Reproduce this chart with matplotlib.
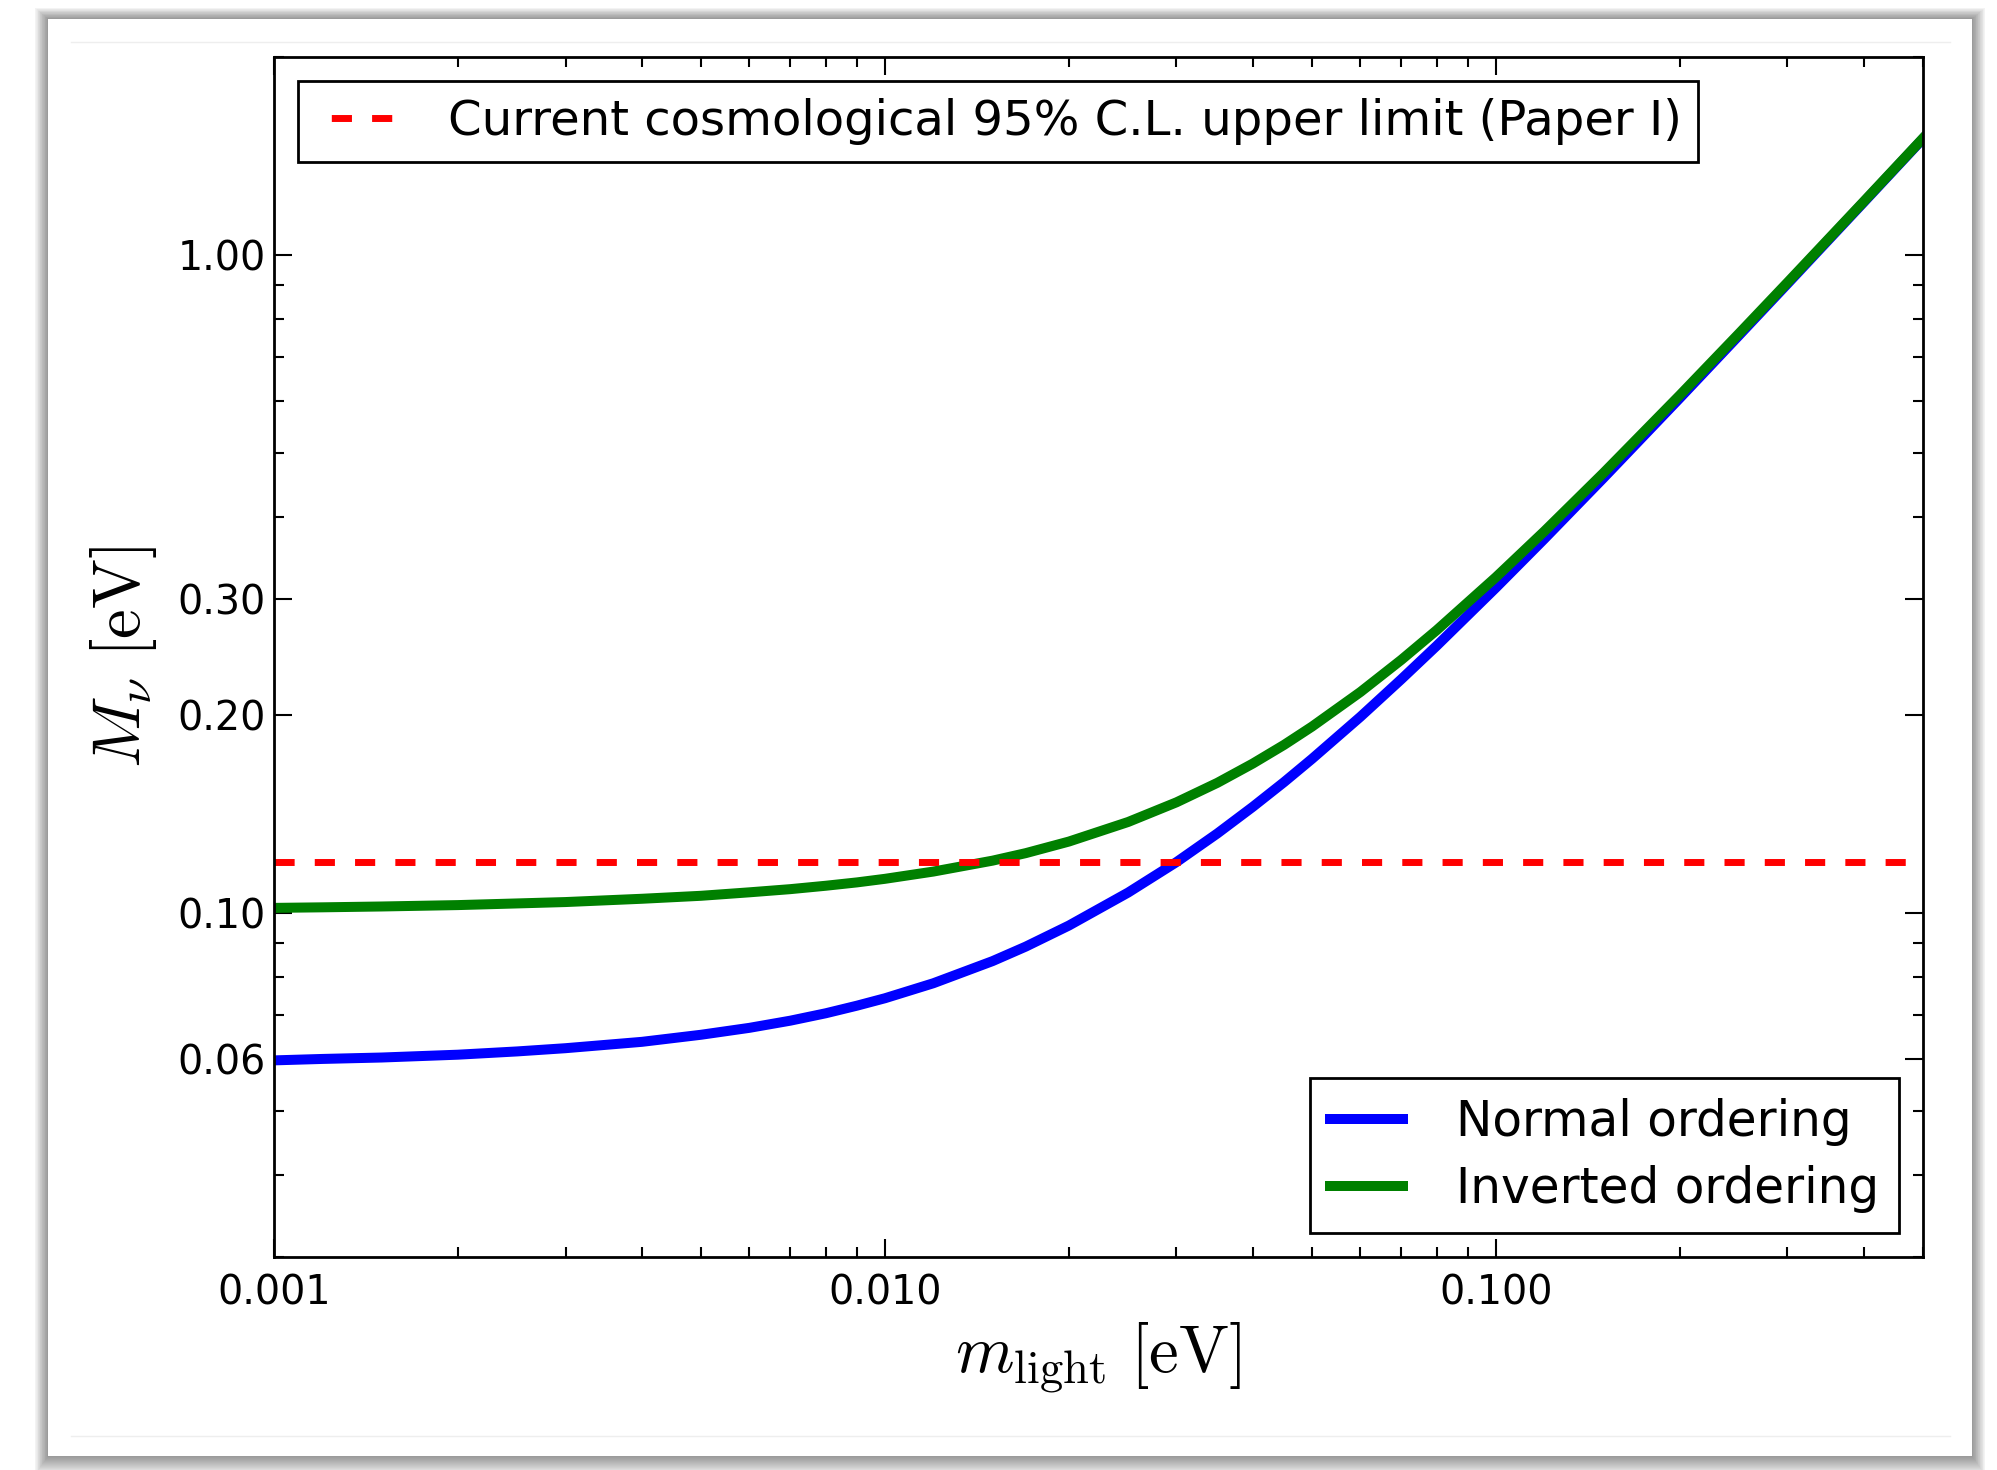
import numpy as np
import matplotlib
matplotlib.use("Agg")
import matplotlib.pyplot as plt
from matplotlib.patches import Rectangle
from matplotlib.lines import Line2D
from matplotlib.ticker import FixedLocator, FormatStrFormatter, LogLocator, NullFormatter

plt.rcParams["mathtext.fontset"] = "cm"
plt.rcParams["font.family"] = "DejaVu Sans"

# values
m_light = [0.001, 0.0012, 0.0015, 0.002, 0.0025, 0.003, 0.004, 0.005, 0.006, 0.007,
           0.008, 0.009, 0.01, 0.012, 0.015, 0.017, 0.02, 0.025, 0.03, 0.035,
           0.04, 0.045, 0.05, 0.06, 0.07, 0.08, 0.1, 0.12, 0.15, 0.2,
           0.25, 0.3, 0.4, 0.5]
M_normal = [0.0597, 0.0600, 0.0603, 0.0609, 0.0616, 0.0623, 0.0637, 0.0653, 0.0669, 0.0686,
            0.0704, 0.0723, 0.0742, 0.0782, 0.0845, 0.0889, 0.0957, 0.1074, 0.1195, 0.1321,
            0.1450, 0.1581, 0.1715, 0.1987, 0.2266, 0.2548, 0.3122, 0.3703, 0.4584, 0.6063,
            0.7551, 0.9043, 1.2032, 1.5026]
M_inverted = [0.1018, 0.1020, 0.1023, 0.1028, 0.1034, 0.1039, 0.1051, 0.1062, 0.1075, 0.1087,
              0.1100, 0.1113, 0.1127, 0.1156, 0.1201, 0.1233, 0.1284, 0.1375, 0.1473, 0.1577,
              0.1687, 0.1801, 0.1920, 0.2167, 0.2425, 0.2691, 0.3239, 0.3803, 0.4665, 0.6125,
              0.7601, 0.9084, 1.2063, 1.5051]
cosmo_limit = 0.1195

y_ticks = [0.06, 0.10, 0.20, 0.30, 1.00]

W, H = 1997, 1470
fig = plt.figure(figsize=(W / 100, H / 100), dpi=100)
fig.patch.set_facecolor("white")

def box(x0, y0, x1, y1, **kw):
    # pixel box (top-left origin) -> figure fraction rectangle
    return Rectangle((x0 / W, 1 - y1 / H), (x1 - x0) / W, (y1 - y0) / H,
                     transform=fig.transFigure, **kw)

# card with soft drop shadow
cx0, cy0, cx1, cy1 = 48, 19, 1972, 1456
for d in range(1, 20):
    fig.add_artist(box(cx0 - d * 0.7, cy0 - d * 0.6, cx1 + d * 0.7, cy1 + d,
                       facecolor="black", edgecolor="none", alpha=0.025, zorder=-5))
fig.add_artist(box(cx0, cy0, cx1, cy1, facecolor="white", edgecolor="none", zorder=-4))
for yy in (42, 1436):
    fig.add_artist(Line2D([71 / W, 1950 / W], [1 - yy / H, 1 - yy / H], transform=fig.transFigure,
                          color="#eeeeee", lw=1, zorder=-3))

ax = fig.add_axes([274 / W, 1 - 1257 / H, (1923 - 274) / W, (1257 - 57) / H])

ax.plot(m_light, M_normal, color="b", lw=7.2, label="Normal ordering")
ax.plot(m_light, M_inverted, color="g", lw=7.2, label="Inverted ordering")
ax.plot([m_light[0], 0.48], [cosmo_limit, cosmo_limit], color="r", lw=5,
        linestyle=(0, (2.9, 2.9)))

ax.set_xscale("log")
ax.set_yscale("log")
ax.set_xlim(0.001, 0.5)
ax.set_ylim(0.03, 2.0)

ax.yaxis.set_major_locator(FixedLocator(y_ticks))
ax.yaxis.set_major_formatter(FormatStrFormatter("%.2f"))
ax.yaxis.set_minor_locator(LogLocator(base=10, subs=np.arange(2, 10)))
ax.yaxis.set_minor_formatter(NullFormatter())
ax.xaxis.set_major_formatter(FormatStrFormatter("%.3f"))
ax.xaxis.set_minor_formatter(NullFormatter())

ax.tick_params(which="both", direction="in", top=True, right=True, width=1.5)
ax.tick_params(which="major", length=13, labelsize=28.5)
ax.tick_params(which="minor", length=7)
ax.tick_params(axis="y", which="major", pad=6)
ax.tick_params(axis="x", which="major", pad=12)
for s in ax.spines.values():
    s.set_linewidth(2)

ax.set_xlabel(r"$m_{\rm light}\ [\mathrm{eV}]$", fontsize=48, labelpad=5)
ax.set_ylabel(r"$M_\nu\ [\mathrm{eV}]$", fontsize=48, labelpad=13)

h, l = ax.get_legend_handles_labels()
# legend proxy for the dashed limit, dash phase as in the original key
lim_key = Line2D([], [], color="r", lw=5, linestyle=(3.45, (2.9, 2.9)))
leg1 = ax.legend([lim_key], ["Current cosmological 95% C.L. upper limit (Paper I)"],
                 loc="upper left", fontsize=34.7, fancybox=False,
                 edgecolor="black", framealpha=1, handlelength=1.6, handletextpad=1.15,
                 borderpad=0.35, borderaxespad=0.5)
leg1.get_frame().set_linewidth(2)
ax.add_artist(leg1)
leg2 = ax.legend(h, l, loc="lower right", fontsize=35, fancybox=False,
                 edgecolor="black", framealpha=1, handlelength=1.5, handletextpad=1.1,
                 borderpad=0.4, borderaxespad=0.5, labelspacing=0.4)
leg2.get_frame().set_linewidth(2)

fig.savefig("out.png", dpi=100)
